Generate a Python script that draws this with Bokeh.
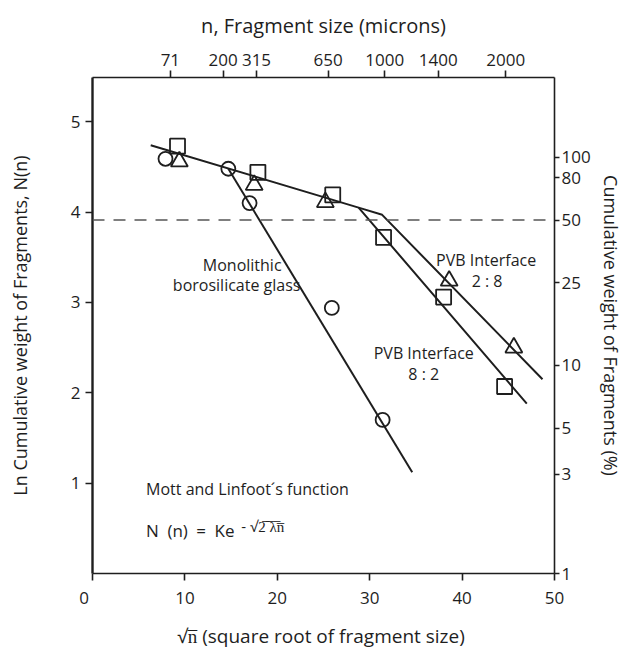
import math
from bokeh.plotting import figure
from bokeh.models import Range1d, LinearAxis, FixedTicker, Label, Span
from bokeh.embed import file_html
from bokeh.resources import INLINE

FONT = "Open Sans"
INK = "#1e1e1e"

# ---- data (x = sqrt(n), y = ln N(n)) ----
mono_x = [7.9, 14.7, 17.0, 25.9, 31.4]
mono_y = [4.59, 4.48, 4.10, 2.94, 1.70]

pvb82_x = [9.2, 17.9, 26.0, 31.5, 38.0, 44.6]
pvb82_y = [4.73, 4.44, 4.19, 3.72, 3.06, 2.07]

pvb28_x = [9.4, 17.5, 25.2, 38.6, 45.6]
pvb28_y = [4.56, 4.30, 4.11, 3.24, 2.50]

# fitted lines
fit82_x = [6.3, 28.8, 47.0]
fit82_y = [4.74, 4.05, 1.88]
fit28_x = [28.8, 31.35, 48.7]
fit28_y = [4.05, 3.97, 2.15]
fitmono_x = [14.7, 34.6]
fitmono_y = [4.48, 1.12]

# axes tick values
bottom_ticks = [0, 10, 20, 30, 40, 50]
left_ticks = [1, 2, 3, 4, 5]
top_sizes = [71, 200, 315, 650, 1000, 1400, 2000]        # microns
right_pcts = [1, 3, 5, 10, 25, 50, 80, 100]               # percent
half_pct = 50

X_MAX, Y_MAX = 50, 5.49

p = figure(width=635, height=651, x_range=Range1d(0, X_MAX), y_range=Range1d(0, Y_MAX),
           output_backend="svg", toolbar_location=None,
           x_axis_location=None, y_axis_location=None,
           min_border_left=92, min_border_right=81, min_border_top=77, min_border_bottom=60)
p.grid.visible = False
p.outline_line_color = None
p.background_fill_color = "white"
p.border_fill_color = "white"


def style(ax, lw=1.6):
    ax.axis_line_color = INK
    ax.axis_line_width = lw
    ax.major_tick_line_color = INK
    ax.major_tick_line_width = 1.6
    ax.major_tick_in = 0
    ax.major_tick_out = 7
    ax.minor_tick_line_color = None
    ax.major_label_text_font = FONT
    ax.major_label_text_font_size = "17px"
    ax.major_label_text_color = INK
    ax.axis_label_text_font = FONT
    ax.axis_label_text_font_size = "18px"
    ax.axis_label_text_font_style = "normal"
    ax.axis_label_text_color = INK


bottom = LinearAxis(ticker=FixedTicker(ticks=bottom_ticks),
                    major_label_overrides={0: "0\u2003"},
                    axis_label="\u221an\u0305  (square root of fragment size)")
style(bottom)
bottom.major_label_standoff = 5
bottom.axis_label_standoff = 11
bottom.axis_label_text_font_size = "19px"
p.add_layout(bottom, "below")

left = LinearAxis(ticker=FixedTicker(ticks=left_ticks),
                  axis_label="Ln Cumulative weight of Fragments, N(n)")
style(left, lw=2.4)
left.major_label_standoff = 5
left.axis_label_standoff = 36
p.add_layout(left, "left")

top_pos = [math.sqrt(n) for n in top_sizes]
top = LinearAxis(ticker=FixedTicker(ticks=top_pos),
                 major_label_overrides={t: str(n) for t, n in zip(top_pos, top_sizes)},
                 axis_label="n, Fragment size (microns)")
style(top)
top.major_label_text_font_size = "17px"
top.major_label_standoff = 5
top.axis_label_text_font_size = "20px"
top.axis_label_standoff = 12
p.add_layout(top, "above")

right_pos = [math.log(v) for v in right_pcts]
right = LinearAxis(ticker=FixedTicker(ticks=right_pos),
                   major_label_overrides={t: str(v) for t, v in zip(right_pos, right_pcts)},
                   axis_label="Cumulative weight of Fragments (%)")
style(right)
right.major_tick_out = 5
right.major_label_standoff = 2
right.axis_label_standoff = 5
p.add_layout(right, "right")

# dashed 50% line
p.add_layout(Span(location=math.log(half_pct), dimension="width", line_color="#555555",
                  line_width=1.6, line_dash="12 9"))

# fit lines
p.line(fit82_x, fit82_y, line_color=INK, line_width=2)
p.line(fit28_x, fit28_y, line_color=INK, line_width=2)
p.line(fitmono_x, fitmono_y, line_color=INK, line_width=2)

# markers
p.scatter(mono_x, mono_y, marker="circle", size=14, fill_color=None,
          line_color=INK, line_width=1.8)
p.scatter(pvb82_x, pvb82_y, marker="square", size=15, fill_color=None,
          line_color=INK, line_width=1.8)
p.scatter(pvb28_x, pvb28_y, marker="triangle", size=17, fill_color=None,
          line_color=INK, line_width=1.8)


def lab(x, y, text, size="16px", align="center", **kw):
    p.add_layout(Label(x=x, y=y, text=text, text_font=FONT, text_font_size=size,
                       text_align=align, text_baseline="middle", text_color=INK, **kw))


lab(16.2, 3.41, "Monolithic")
lab(15.6, 3.19, "borosilicate glass")
lab(42.6, 3.475, "PVB Interface")
lab(42.7, 3.24, "2 : 8")
lab(35.85, 2.44, "PVB Interface")
lab(35.85, 2.21, "8 : 2")
lab(5.8, 0.93, "Mott and Linfoot\u00b4s function", size="16px", align="left")
lab(5.8, 0.48, "N\u2002(n)\u2002=\u2002Ke", size="17px", align="left")
lab(16.1, 0.53, "- \u221a2\u0305 \u0305\u03bb\u0305n\u0305", size="15px", align="left")

open("out.html", "w").write(file_html(p, INLINE))
